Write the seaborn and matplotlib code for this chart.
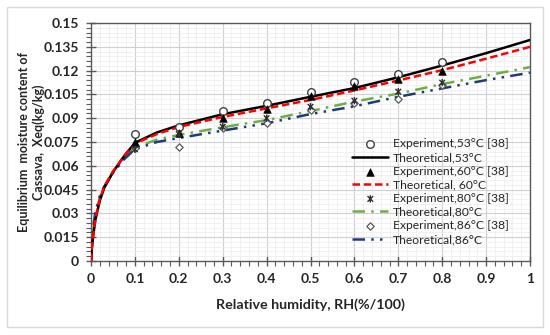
import matplotlib
matplotlib.use('Agg')
import matplotlib.pyplot as plt
import seaborn as sns
import numpy as np
from matplotlib.path import Path
from matplotlib.patches import Rectangle
from matplotlib.ticker import MultipleLocator, FuncFormatter

rh_exp = [0.1, 0.2, 0.3, 0.4, 0.5, 0.6, 0.7, 0.8]
exp_53 = [0.0800, 0.0842, 0.0947, 0.0998, 0.1067, 0.1130, 0.1178, 0.1252]
exp_60 = [0.0752, 0.0804, 0.0900, 0.0956, 0.1040, 0.1103, 0.1145, 0.1200]
exp_80 = [0.0704, 0.0800, 0.0846, 0.0900, 0.0972, 0.1010, 0.1067, 0.1124]
exp_86 = [0.0715, 0.0720, 0.0840, 0.0872, 0.0950, 0.0995, 0.1022, 0.1110]

# theoretical curves
rh_th = [0, 0.002, 0.005, 0.01, 0.02, 0.03, 0.05, 0.075, 0.1, 0.15,
         0.2, 0.3, 0.4, 0.5, 0.6, 0.7, 0.8, 0.9, 1.0]
th_53 = [0, 0.008, 0.016, 0.026, 0.038, 0.046, 0.056, 0.066, 0.0745, 0.0810,
         0.0855, 0.0925, 0.0978, 0.1035, 0.1090, 0.1158, 0.1232, 0.1310, 0.1393]
th_60 = [0, 0.009, 0.017, 0.027, 0.039, 0.047, 0.0565, 0.066, 0.0740, 0.0800,
         0.0845, 0.0908, 0.0962, 0.1015, 0.1075, 0.1138, 0.1203, 0.1275, 0.1350]
th_80 = [0, 0.012, 0.020, 0.029, 0.040, 0.047, 0.0560, 0.065, 0.0715, 0.0765,
         0.0795, 0.0843, 0.0888, 0.0945, 0.1005, 0.1055, 0.1115, 0.1168, 0.1222]
th_86 = [0, 0.014, 0.022, 0.031, 0.041, 0.047, 0.0555, 0.064, 0.0705, 0.0750,
         0.0775, 0.0822, 0.0868, 0.0926, 0.0975, 0.1035, 0.1088, 0.1140, 0.1187]

sns.set_theme(style="whitegrid")
plt.rcParams['font.family'] = ['Lato', 'DejaVu Sans']

fig = plt.figure(figsize=(5.5, 3.35), dpi=100)
ax = fig.add_axes([0.1655, 0.2209, 0.7981, 0.7104])
fig.patches.append(Rectangle((7 / 550, 8 / 335), 536 / 550, 320 / 335, transform=fig.transFigure,
                             fill=False, edgecolor='#d9d9d9', linewidth=1))

# asterisk marker: X plus vertical bar
star = Path([(-1, -1), (1, 1), (-1, 1), (1, -1), (0, -1.3), (0, 1.3)],
            [Path.MOVETO, Path.LINETO, Path.MOVETO, Path.LINETO, Path.MOVETO, Path.LINETO])

sns.scatterplot(x=rh_exp, y=exp_53, marker='o', s=30, facecolor='white', edgecolor='#404040',
                linewidth=1.0, label='Experiment,53°C [38]', zorder=5, ax=ax)
sns.lineplot(x=rh_th, y=th_53, color='black', linewidth=1.8, label='Theoretical,53°C', zorder=4, ax=ax)
sns.scatterplot(x=rh_exp, y=exp_60, marker='^', s=30, color='black', edgecolor='black',
                label='Experiment,60°C [38]', zorder=6, ax=ax)
sns.lineplot(x=rh_th, y=th_60, color='#ff0000', linewidth=1.8, linestyle=(0, (3, 1.5)),
             label='Theoretical, 60°C', zorder=4, ax=ax)
sns.scatterplot(x=rh_exp, y=exp_80, marker=star, s=28, facecolor='none', edgecolor='#303030',
                linewidth=1.0, label='Experiment,80°C [38]', zorder=6, ax=ax)
sns.lineplot(x=rh_th, y=th_80, color='#70ad47', linewidth=1.8, linestyle=(0, (5, 2.5, 1, 2.5)),
             label='Theoretical,80°C', zorder=3, ax=ax)
sns.scatterplot(x=rh_exp, y=exp_86, marker='D', s=14, facecolor='white', edgecolor='#595959',
                linewidth=0.9, label='Experiment,86°C [38]', zorder=5, ax=ax)
sns.lineplot(x=rh_th, y=th_86, color='#1f3b7a', linewidth=1.8, linestyle=(0, (5, 2.5, 1, 2.5, 1, 2.5)),
             label='Theoretical,86°C', zorder=3, ax=ax)

ax.set_xlim(0, 1)
ax.set_ylim(0, 0.15)
ax.xaxis.set_major_locator(MultipleLocator(0.1))
ax.xaxis.set_minor_locator(MultipleLocator(0.02))
ax.yaxis.set_major_locator(MultipleLocator(0.015))
ax.yaxis.set_minor_locator(MultipleLocator(0.003))
fmt = FuncFormatter(lambda v, p: ('%.3f' % v).rstrip('0').rstrip('.') if abs(v) > 1e-9 else '0')
ax.xaxis.set_major_formatter(fmt)
ax.yaxis.set_major_formatter(fmt)

ax.set_facecolor('white')
ax.grid(which='major', color='#d0d0d0', linewidth=0.8)
ax.grid(which='minor', color='#ececec', linewidth=0.5)
for sp in ax.spines.values():
    sp.set_visible(True)
    sp.set_color('#595959')
    sp.set_linewidth(1.0)

ax.tick_params(which='major', direction='inout', length=7, width=1, color='#595959',
               labelsize=10, labelcolor='#262626', pad=5)
ax.tick_params(which='minor', direction='out', length=3.5, width=0.8, color='#595959')
ax.tick_params(axis='x', which='both', bottom=True)
ax.tick_params(axis='y', which='both', left=True)
for lab in ax.get_xticklabels() + ax.get_yticklabels():
    lab.set_fontweight('bold')

ax.set_xlabel('Relative humidity, RH(%/100)', fontsize=10.3, fontweight='bold', color='#262626')
ax.xaxis.set_label_coords(0.5, -0.155)
ax.set_ylabel('Equilibrium  moisture content of\nCassava,  Xeq(kg/kg)', fontsize=9.0,
              fontweight='bold', color='#262626', linespacing=1.2)
ax.yaxis.set_label_coords(-0.105, 0.5)

handles, labels = ax.get_legend_handles_labels()
leg = ax.legend(handles, labels, loc='upper left', bbox_to_anchor=(0.595, 0.515), frameon=False,
                fontsize=8.7, handlelength=3.0, handletextpad=0.4, labelspacing=0.22,
                borderaxespad=0, borderpad=0)
for t in leg.get_texts():
    t.set_color('#262626')

fig.savefig('out.png', dpi=100, facecolor='white')
plt.close(fig)
